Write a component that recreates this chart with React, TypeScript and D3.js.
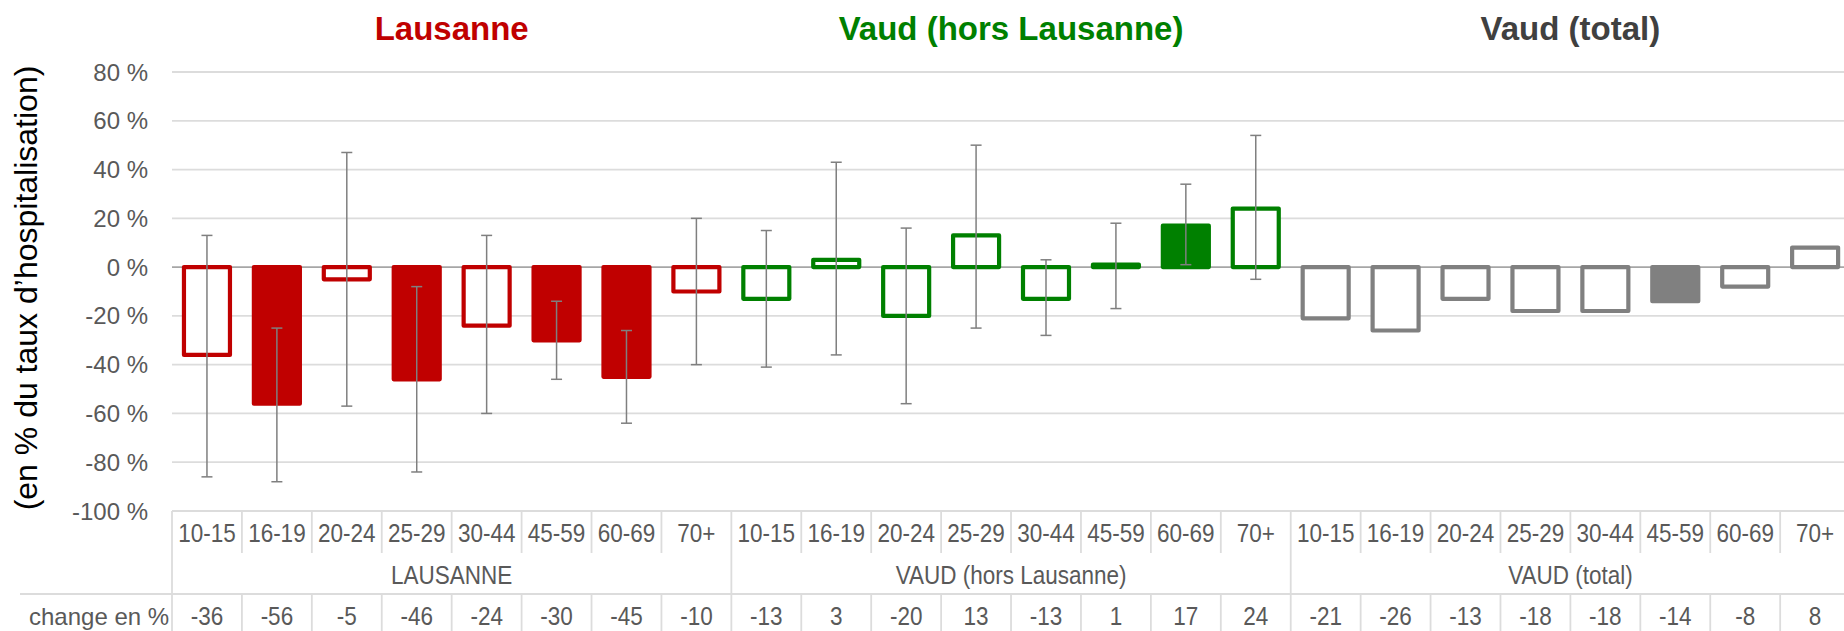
import React from "react";
import * as d3 from "d3";

// ---- data ----
const ageGroups = ["10-15", "16-19", "20-24", "25-29", "30-44", "45-59", "60-69", "70+"];
const regionTitles = ["Lausanne", "Vaud (hors Lausanne)", "Vaud (total)"];
const regionLabels = ["LAUSANNE", "VAUD (hors Lausanne)", "VAUD (total)"];

const lausanneChange = [-36, -56, -5, -46, -24, -30, -45, -10];
const lausanneLow = [-86, -88, -57, -84, -60, -46, -64, -40];
const lausanneHigh = [13, -25, 47, -8, 13, -14, -26, 20];
const lausanneFilled = [false, true, false, true, false, true, true, false];

const vaudHorsChange = [-13, 3, -20, 13, -13, 1, 17, 24];
const vaudHorsLow = [-41, -36, -56, -25, -28, -17, 1, -5];
const vaudHorsHigh = [15, 43, 16, 50, 3, 18, 34, 54];
const vaudHorsFilled = [false, false, false, false, false, false, true, false];

const vaudTotalChange = [-21, -26, -13, -18, -18, -14, -8, 8];
const vaudTotalFilled = [false, false, false, false, false, true, false, false];

const yTicks = [-100, -80, -60, -40, -20, 0, 20, 40, 60, 80];
const yTitle = "(en % du taux d\u2019hospitalisation)";
const changeLabel = "change en %";

const regionColors = ["#C00000", "#008000", "#808080"];
const titleColors = ["#C00000", "#008000", "#404040"];

// ---- layout ----
const W = 1844;
const H = 631;
const plotLeft = 172;
const colW = 69.92;
const FONT = "'Liberation Sans', Arial, sans-serif";
const LABEL = "#595959";
const GRID = "#dcdcdc";

type Bar = {
  idx: number;
  region: number;
  age: string;
  value: number;
  low: number | null;
  high: number | null;
  filled: boolean;
};

const bars: Bar[] = [];
ageGroups.forEach((a, i) =>
  bars.push({ idx: i, region: 0, age: a, value: lausanneChange[i], low: lausanneLow[i], high: lausanneHigh[i], filled: lausanneFilled[i] })
);
ageGroups.forEach((a, i) =>
  bars.push({ idx: 8 + i, region: 1, age: a, value: vaudHorsChange[i], low: vaudHorsLow[i], high: vaudHorsHigh[i], filled: vaudHorsFilled[i] })
);
ageGroups.forEach((a, i) =>
  bars.push({ idx: 16 + i, region: 2, age: a, value: vaudTotalChange[i], low: null, high: null, filled: vaudTotalFilled[i] })
);

export default function App() {
  const x = d3
    .scaleBand<number>()
    .domain(d3.range(bars.length))
    .range([plotLeft, plotLeft + colW * bars.length])
    .paddingInner(0)
    .paddingOuter(0);
  const y = d3.scaleLinear().domain([-100, 80]).range([511, 72]);

  const bw = x.bandwidth();
  const barInner = 46;
  const tableTop = y(-100);
  const catBase = 542;
  const catDivBottom = 553;
  const rowLine = 594;
  const grpBase = 584;
  const chgBase = 625;

  return (
    <svg
      width={W}
      height={H}
      style={{ position: "absolute", left: 0, top: 0, background: "#fff" }}
      fontFamily={FONT}
    >
      <rect x={0} y={0} width={W} height={H} fill="#fff" />

      {/* titles */}
      {regionTitles.map((t, r) => {
        const cx = (x(r * 8)! + x(r * 8 + 7)! + bw) / 2;
        return (
          <text key={t} x={cx} y={39.5} textAnchor="middle" fontSize={33} fontWeight="bold" fill={titleColors[r]}>
            {t}
          </text>
        );
      })}

      {/* y title */}
      <text
        transform={`translate(37, 288) rotate(-90)`}
        textAnchor="middle"
        fontSize={32}
        fill="#000"
      >
        {yTitle}
      </text>

      {/* gridlines */}
      {yTicks.map((t) => (
        <line
          key={t}
          x1={plotLeft}
          x2={W}
          y1={y(t)}
          y2={y(t)}
          stroke={t === 0 ? "#a6a6a6" : GRID}
          strokeWidth={t === 0 ? 1.6 : 1.8}
        />
      ))}
      {yTicks.map((t) => (
        <text key={"l" + t} x={148} y={y(t) + 8.5} textAnchor="end" fontSize={24} fill={LABEL}>
          {`${t} %`}
        </text>
      ))}

      {/* bars */}
      {bars.map((b) => {
        const cx = x(b.idx)! + bw / 2;
        const y0 = y(0);
        const yv = y(b.value);
        const col = regionColors[b.region];
        return (
          <rect
            key={"b" + b.idx}
            x={cx - barInner / 2}
            y={Math.min(y0, yv)}
            width={barInner}
            height={Math.abs(yv - y0)}
            fill={b.filled ? col : "#fff"}
            stroke={col}
            strokeWidth={4.2}
            strokeLinejoin="round"
          />
        );
      })}

      {/* error bars */}
      {bars
        .filter((b) => b.low !== null && b.high !== null)
        .map((b) => {
          const cx = x(b.idx)! + bw / 2;
          const yl = y(b.low as number);
          const yh = y(b.high as number);
          return (
            <g key={"e" + b.idx} stroke="#7f7f7f" strokeWidth={1.5}>
              <line x1={cx} x2={cx} y1={yh} y2={yl} />
              <line x1={cx - 5.5} x2={cx + 5.5} y1={yh} y2={yh} />
              <line x1={cx - 5.5} x2={cx + 5.5} y1={yl} y2={yl} />
            </g>
          );
        })}

      {/* table lines */}
      <g stroke={GRID} strokeWidth={1.8}>
        <line x1={plotLeft} x2={W} y1={tableTop} y2={tableTop} />
        <line x1={20} x2={W} y1={rowLine} y2={rowLine} />
        {d3.range(bars.length + 1).map((i) => {
          const xx = plotLeft + colW * i;
          const isGroup = i % 8 === 0;
          return isGroup ? (
            <line key={"v" + i} x1={xx} x2={xx} y1={tableTop} y2={H} />
          ) : (
            <g key={"v" + i}>
              <line x1={xx} x2={xx} y1={tableTop} y2={catDivBottom} />
              <line x1={xx} x2={xx} y1={rowLine} y2={H} />
            </g>
          );
        })}
      </g>

      {/* category labels */}
      {bars.map((b) => {
        const cx = x(b.idx)! + bw / 2;
        return (
          <g key={"c" + b.idx}>
            <text
              transform={`translate(${cx}, ${catBase}) scale(0.9, 1)`}
              textAnchor="middle"
              fontSize={25}
              fill={LABEL}
            >
              {b.age}
            </text>
            <text
              transform={`translate(${cx}, ${chgBase}) scale(0.9, 1)`}
              textAnchor="middle"
              fontSize={25}
              fill={LABEL}
            >
              {String(b.value)}
            </text>
          </g>
        );
      })}

      {/* group labels */}
      {regionLabels.map((t, r) => {
        const cx = (x(r * 8)! + x(r * 8 + 7)! + bw) / 2;
        return (
          <text
            key={t}
            transform={`translate(${cx}, ${grpBase}) scale(0.9, 1)`}
            textAnchor="middle"
            fontSize={25}
            fill={LABEL}
          >
            {t}
          </text>
        );
      })}

      <text x={29} y={chgBase} fontSize={24} fill={LABEL}>
        {changeLabel}
      </text>
    </svg>
  );
}
